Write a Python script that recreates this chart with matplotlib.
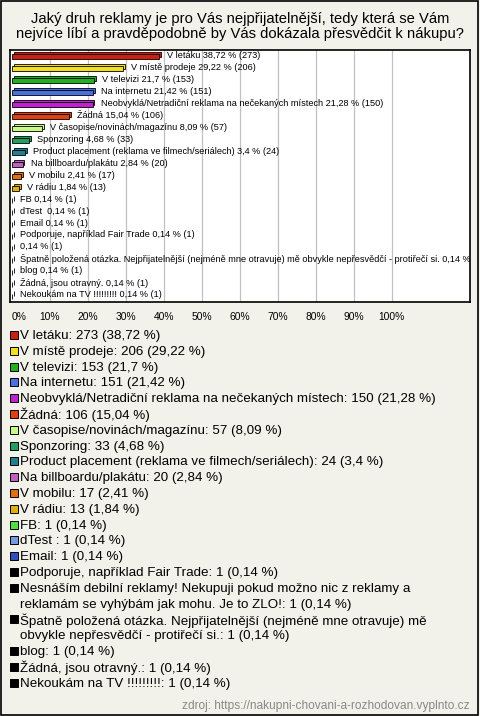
import textwrap
import matplotlib
matplotlib.use('Agg')
import matplotlib.pyplot as plt
from matplotlib.patches import Rectangle

plt.rcParams['font.family'] = ['Liberation Sans', 'DejaVu Sans']

# data
names = ['V letáku', 'V místě prodeje', 'V televizi', 'Na internetu',
         'Neobvyklá/Netradiční reklama na nečekaných místech', 'Žádná',
         'V časopise/novinách/magazínu', 'Sponzoring',
         'Product placement (reklama ve filmech/seriálech)', 'Na billboardu/plakátu',
         'V mobilu', 'V rádiu', 'FB', 'dTest ', 'Email',
         'Podporuje, například Fair Trade',
         'Nesnáším debilní reklamy! Nekupuji pokud možno nic z reklamy a reklamám se vyhýbám jak mohu. Je to ZLO!',
         'Špatně položená otázka. Nejpřijatelnější (nejméně mne otravuje) mě obvykle nepřesvědčí - protiřečí si.',
         'blog', 'Žádná, jsou otravný.', 'Nekoukám na TV !!!!!!!!!']
# the chart itself shows no name for the "Nesnáším..." row
chart_names = names[:16] + [''] + names[17:]
counts = [273, 206, 153, 151, 150, 106, 57, 33, 24, 20, 17, 13, 1, 1, 1, 1, 1, 1, 1, 1, 1]
percents = [38.72, 29.22, 21.7, 21.42, 21.28, 15.04, 8.09, 4.68, 3.4, 2.84, 2.41, 1.84,
            0.14, 0.14, 0.14, 0.14, 0.14, 0.14, 0.14, 0.14, 0.14]
colors = ['#cc2010', '#f2e020', '#20b020', '#4a6fe0', '#c020d0', '#e04010', '#c8f888',
          '#20a060', '#208090', '#c060c0', '#e07010', '#e0b010', '#50e040', '#7898e0',
          '#3050c0', '#000000', '#000000', '#000000', '#000000', '#000000', '#000000']
ticks = [0, 10, 20, 30, 40, 50, 60, 70, 80, 90, 100]

title = ('Jaký druh reklamy je pro Vás nejpřijatelnější, tedy která se Vám\n'
         'nejvíce líbí a pravděpodobně by Vás dokázala přesvědčit k nákupu?')
source = 'zdroj: https://nakupni-chovani-a-rozhodovan.vyplnto.cz'


def fmt(p):
    return f'{p:g}'.replace('.', ',')


W, H = 480, 716
bg = '#f3f2ea'
fig = plt.figure(figsize=(W / 100, H / 100), dpi=100, facecolor=bg)
fig.patches.append(Rectangle((0.002, 0.002), 0.994, 0.996, transform=fig.transFigure,
                             fill=False, edgecolor='black', linewidth=1.2))

fig.text(0.5, 1 - 26.5 / H, title, ha='center', va='center', fontsize=10.6,
         linespacing=1.1)

# bar chart
ax = fig.add_axes([10 / W, 1 - 302 / H, 460 / W, 252 / H])
ax.set_facecolor('white')
rows = list(range(len(names)))
ax.set_xlim(-0.45, 120.6)
ax.set_ylim(20.5, -0.56)
for x in ticks[1:]:
    ax.axvline(x, color='#c0c0c0', linewidth=0.9, zorder=0)

# back face for the 3D look
ax.barh([r - 0.17 for r in rows], percents, left=0.5, height=0.42, color=colors,
        edgecolor='black', linewidth=0.6, zorder=2)
ax.barh(rows, percents, height=0.42, color=colors, edgecolor='black',
        linewidth=0.6, zorder=3)

for r in rows:
    label = f'{fmt(percents[r])} % ({counts[r]})'
    if chart_names[r]:
        label = chart_names[r] + ' ' + label
    ax.annotate(label, (percents[r], r - 0.1), xytext=(8, 0), textcoords='offset pixels',
                ha='left', va='center', fontsize=6.6, clip_on=True, zorder=4)

ax.set_xticks(ticks)
ax.set_xticklabels([f'{t}%' for t in ticks])
ax.set_yticks([])
ax.tick_params(axis='x', length=0, pad=7, labelsize=7.4)
ax.get_xticklabels()[0].set_horizontalalignment('left')
for s in ax.spines.values():
    s.set_linewidth(1.2)

# legend below the chart
y = 336
for i, name in enumerate(names):
    text = f'{name}: {counts[i]} ({fmt(percents[i])} %)'
    lines = textwrap.wrap(text, 66)
    fig.patches.append(Rectangle((10 / W, 1 - (y + 3) / H), 8 / W, 8 / H,
                                 transform=fig.transFigure, facecolor=colors[i],
                                 edgecolor='black', linewidth=0.7))
    for line in lines:
        fig.text(20 / W, 1 - y / H, line, ha='left', va='center', fontsize=9.6)
        y += 15.8

fig.text(470 / W, 1 - 706 / H, source, ha='right', va='center', fontsize=8.6,
         color='#888888')

fig.savefig('out.png', dpi=100, facecolor=bg)
